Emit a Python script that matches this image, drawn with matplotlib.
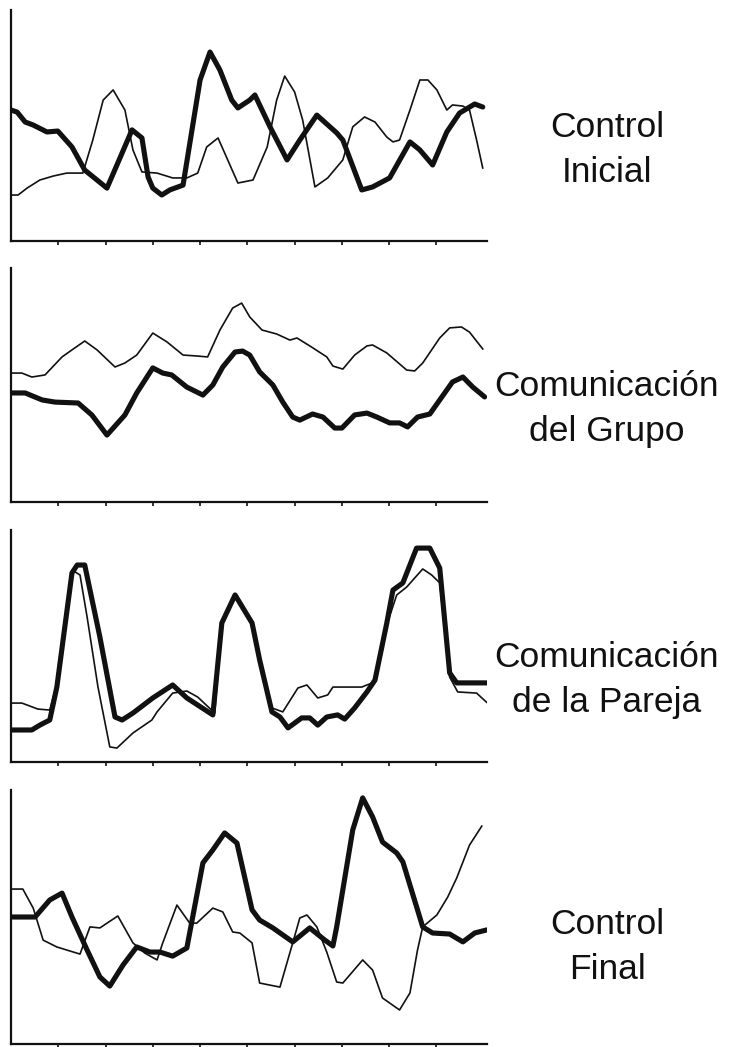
import matplotlib
matplotlib.use("Agg")
import matplotlib.pyplot as plt

plt.rcParams['font.family'] = ['Liberation Sans', 'DejaVu Sans']

# ---------------- data (x in tick units, y on 0-100 scale) ----------------
labels = ["Control\nInicial", "Comunicación\ndel Grupo",
          "Comunicación\nde la Pareja", "Control\nFinal"]

p1_thick_x = [0.0, 0.13, 0.30, 0.47, 0.76, 0.99, 1.29, 1.56, 2.03, 2.26, 2.56, 2.77, 2.90, 3.00,
              3.19, 3.36, 3.64, 4.00, 4.21, 4.42, 4.67, 4.80, 5.05, 5.16, 5.48, 5.84, 6.11, 6.47,
              6.89, 7.02, 7.42, 7.65, 8.01, 8.44, 8.65, 8.92, 9.22, 9.49, 9.81, 9.98]
p1_thick_y = [56.7, 55.8, 51.5, 50.2, 47.2, 47.6, 40.7, 30.7, 22.9, 33.8, 48.1, 44.6, 27.7, 22.9,
              19.9, 22.1, 24.2, 69.7, 81.8, 74.0, 61.0, 57.6, 61.0, 63.2, 49.4, 35.1, 43.7, 54.5,
              46.8, 43.7, 22.1, 23.4, 27.3, 42.9, 39.4, 32.9, 47.2, 55.4, 59.3, 58.0]
p1_thin_x = [0.0, 0.15, 0.34, 0.61, 0.89, 1.18, 1.52, 1.73, 1.95, 2.16, 2.41, 2.58, 2.77, 3.09,
             3.42, 3.72, 3.95, 4.14, 4.38, 4.80, 5.12, 5.42, 5.62, 5.79, 6.00, 6.17, 6.43, 6.70,
             7.02, 7.23, 7.48, 7.70, 7.95, 8.08, 8.22, 8.44, 8.65, 8.82, 9.01, 9.22, 9.34, 9.56,
             9.70, 9.85, 9.98]
p1_thin_y = [19.9, 19.9, 22.9, 26.4, 28.1, 29.4, 29.4, 43.7, 61.0, 65.4, 56.7, 39.4, 29.9, 29.4,
             27.3, 27.3, 29.4, 40.7, 44.6, 25.1, 26.4, 40.7, 61.0, 71.4, 64.5, 52.4, 23.4, 27.3,
             35.1, 49.4, 53.7, 51.5, 45.0, 42.9, 43.7, 56.7, 69.7, 69.7, 65.4, 56.7, 58.9, 58.4,
             56.7, 43.7, 31.6]

p2_thin_x = [0.02, 0.23, 0.44, 0.72, 1.08, 1.29, 1.56, 1.82, 2.20, 2.41, 2.66, 3.00, 3.30, 3.64,
             3.93, 4.16, 4.42, 4.69, 4.88, 5.05, 5.31, 5.62, 5.90, 6.05, 6.36, 6.68, 6.81, 7.02,
             7.27, 7.53, 7.65, 7.95, 8.37, 8.54, 8.71, 9.07, 9.28, 9.53, 9.70, 9.98]
p2_thin_y = [55.1, 55.1, 53.4, 54.3, 62.0, 65.0, 68.8, 65.0, 57.7, 59.4, 62.8, 72.2, 68.4, 62.8,
             62.4, 62.0, 73.5, 82.9, 85.0, 79.1, 73.5, 71.8, 69.2, 70.1, 66.2, 62.0, 58.1, 56.8,
             62.8, 66.7, 67.1, 63.7, 56.4, 56.0, 59.4, 70.1, 74.4, 74.8, 72.6, 65.4]
p2_thick_x = [0.02, 0.30, 0.66, 0.93, 1.42, 1.71, 2.03, 2.41, 2.66, 3.00, 3.21, 3.40, 3.72, 4.06,
              4.27, 4.48, 4.74, 4.90, 5.05, 5.26, 5.54, 5.75, 5.96, 6.11, 6.38, 6.60, 6.85, 7.00,
              7.27, 7.53, 7.74, 8.01, 8.22, 8.39, 8.60, 8.86, 9.07, 9.34, 9.56, 9.77, 10.02]
p2_thick_y = [46.6, 46.6, 43.6, 42.7, 42.3, 37.2, 28.6, 37.2, 46.6, 57.3, 55.1, 54.3, 49.1, 45.7,
              50.0, 57.7, 64.1, 64.5, 62.8, 55.6, 50.0, 42.7, 36.3, 35.0, 37.6, 36.3, 31.6, 31.6,
              37.2, 38.0, 36.3, 33.8, 33.8, 32.1, 36.3, 37.6, 43.6, 51.3, 53.4, 49.1, 44.9]

p3_thick_x = [0.02, 0.44, 0.61, 0.82, 0.97, 1.29, 1.40, 1.56, 1.88, 2.20, 2.35, 2.58, 3.00, 3.42,
              3.72, 4.27, 4.46, 4.74, 5.10, 5.26, 5.52, 5.69, 5.86, 6.15, 6.32, 6.49, 6.68, 6.91,
              7.06, 7.27, 7.53, 7.70, 7.95, 8.08, 8.29, 8.58, 8.86, 9.07, 9.28, 9.43, 9.77, 10.08]
p3_thick_y = [13.8, 13.8, 15.9, 18.1, 32.3, 81.5, 84.9, 84.9, 53.9, 19.4, 18.1, 21.1, 27.6, 33.2,
              27.6, 20.3, 59.9, 72.0, 59.9, 44.0, 21.6, 19.4, 14.7, 19.0, 19.0, 15.9, 19.4, 20.3,
              18.5, 23.3, 30.2, 35.3, 59.9, 74.1, 77.2, 92.2, 92.2, 83.6, 38.4, 34.1, 34.1, 34.1]
p3_thin_x = [0.02, 0.23, 0.57, 0.82, 0.99, 1.29, 1.46, 1.61, 1.84, 2.09, 2.24, 2.58, 2.98, 3.09,
             3.42, 3.72, 3.95, 4.31, 4.46, 4.74, 5.10, 5.26, 5.52, 5.75, 6.07, 6.26, 6.49, 6.70,
             6.81, 7.42, 7.53, 7.70, 7.95, 8.16, 8.37, 8.71, 8.90, 9.07, 9.28, 9.45, 9.85, 10.08]
p3_thin_y = [25.4, 25.4, 22.8, 22.4, 35.3, 82.8, 80.6, 62.5, 32.3, 6.5, 6.0, 12.5, 18.1, 21.6,
             29.7, 30.6, 28.0, 21.1, 59.9, 71.1, 59.1, 43.1, 23.3, 21.6, 31.9, 33.2, 27.6, 28.9,
             32.3, 32.3, 33.2, 34.5, 59.1, 72.0, 75.4, 83.2, 80.6, 77.2, 36.6, 30.2, 29.7, 25.4]

p4_thick_x = [0.02, 0.51, 0.82, 1.08, 1.29, 1.61, 1.88, 2.09, 2.37, 2.66, 2.94, 3.15, 3.42, 3.72,
              4.06, 4.27, 4.52, 4.78, 5.10, 5.26, 5.54, 5.96, 6.32, 6.64, 6.81, 6.89, 7.23, 7.44,
              7.65, 7.86, 8.16, 8.29, 8.71, 8.92, 9.28, 9.56, 9.81, 10.06]
p4_thick_y = [50.0, 50.0, 56.7, 59.4, 50.0, 37.0, 26.4, 22.8, 31.1, 38.2, 36.2, 36.2, 34.6, 37.8,
              71.3, 76.4, 83.1, 79.1, 52.8, 48.8, 45.7, 40.2, 45.7, 40.9, 38.6, 46.1, 84.3, 96.9,
              89.4, 79.5, 75.2, 71.7, 46.1, 43.7, 43.3, 40.2, 43.7, 44.9]
p4_thin_x = [0.02, 0.25, 0.47, 0.68, 0.97, 1.46, 1.67, 1.88, 2.26, 2.58, 2.83, 3.09, 3.21, 3.51,
             3.78, 3.93, 4.27, 4.48, 4.69, 4.84, 5.10, 5.26, 5.69, 5.96, 6.11, 6.26, 6.47, 6.68,
             6.89, 7.02, 7.44, 7.65, 7.86, 8.22, 8.44, 8.60, 8.71, 9.01, 9.24, 9.43, 9.70, 9.96]
p4_thin_y = [61.0, 61.0, 53.5, 40.9, 38.2, 35.4, 46.1, 45.7, 50.4, 39.8, 35.8, 33.1, 39.8, 54.7,
             47.6, 47.6, 53.5, 52.0, 44.1, 43.7, 39.8, 24.0, 22.4, 39.8, 49.6, 50.8, 46.1, 36.2,
             24.4, 24.0, 33.1, 29.1, 18.1, 13.4, 20.1, 37.0, 46.1, 50.8, 57.9, 65.4, 78.3, 85.8]

tick_positions = [1, 2, 3, 4, 5, 6, 7, 8, 9]

panels = [
    (p1_thick_x, p1_thick_y, p1_thin_x, p1_thin_y),
    (p2_thick_x, p2_thick_y, p2_thin_x, p2_thin_y),
    (p3_thick_x, p3_thick_y, p3_thin_x, p3_thin_y),
    (p4_thick_x, p4_thick_y, p4_thin_x, p4_thin_y),
]

# ---------------- layout ----------------
W, H = 729, 1047
fig = plt.figure(figsize=(W / 100, H / 100), dpi=100)
fig.patch.set_facecolor('white')

# (top px, bottom px) of each panel
boxes = [(10, 241), (268, 502), (530, 762), (790, 1044)]
label_centers = [150, 409, 680, 947]
left_px, right_px = 11, 487

ink = '#111111'
for (tx, ty, nx, ny), (top, bot), lab, lc in zip(panels, boxes, labels, label_centers):
    ax = fig.add_axes([left_px / W, 1 - bot / H, (right_px - left_px) / W, (bot - top) / H])
    ax.plot(nx, ny, color=ink, lw=1.2, solid_joinstyle='round', zorder=2)
    ax.plot(tx, ty, color=ink, lw=3.7, solid_joinstyle='round', solid_capstyle='round', zorder=3)
    ax.set_xlim(0, 10.07)
    ax.set_ylim(0, 100)
    for s in ('top', 'right'):
        ax.spines[s].set_visible(False)
    for s in ('left', 'bottom'):
        ax.spines[s].set_linewidth(1.6)
        ax.spines[s].set_color(ink)
    ax.set_xticks(tick_positions)
    ax.set_xticklabels([])
    ax.set_yticks([])
    ax.tick_params(axis='x', direction='out', length=3, width=1.2, color=ink)
    ax.patch.set_alpha(0)
    fig.text(607 / W, 1 - lc / H, lab, ha='center', va='center', multialignment='center',
             fontsize=25.5, color=ink, linespacing=1.45)

fig.savefig('out.png', dpi=100, facecolor='white')
